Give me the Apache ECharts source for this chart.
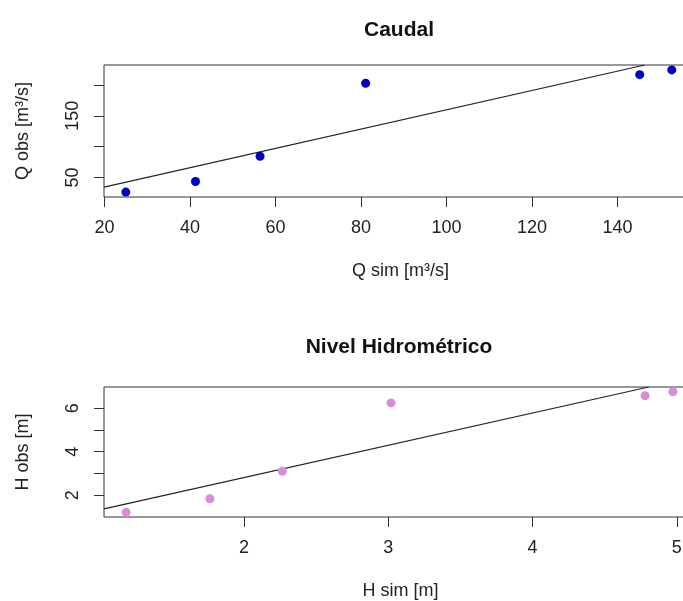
<!DOCTYPE html>
<html>
<head>
<meta charset="utf-8">
<script src="https://cdn.jsdelivr.net/npm/echarts@6/dist/echarts.min.js"></script>
<style>html,body{margin:0;padding:0;background:#fff;overflow:hidden;width:683px;height:601px}#c{width:740px;height:601px}</style>
</head>
<body>
<div id="c"></div>
<script>
// ---- Caudal (discharge) ----
const qSim = [25.0, 41.3, 56.4, 81.1, 145.2, 152.7];
const qObs = [26.3, 43.5, 84.4, 202.7, 216.6, 224.2];
const qFitX = [19.9, 146.4];
const qFitY = [34.4, 232.2];
const qXTicks = [20, 40, 60, 80, 100, 120, 140];
const qYTicks = [50, 100, 150, 200];
const qYLabels = [50, 150];

// ---- Nivel Hidrométrico (stage) ----
const hSim = [1.183, 1.764, 2.266, 3.019, 4.78, 4.973];
const hObs = [1.22, 1.84, 3.10, 6.24, 6.57, 6.75];
const hFitX = [1.03, 4.806];
const hFitY = [1.37, 6.97];
const hXTicks = [2, 3, 4, 5];
const hYTicks = [2, 3, 4, 5, 6];
const hYLabels = [2, 4, 6];

const FONT = 'Liberation Sans, Arial, Helvetica, sans-serif';
const chart = echarts.init(document.getElementById('c'), null, {renderer: 'canvas'});

function xAx(gridIndex, min, max, ticks, name) {
  return {
    type: 'value', gridIndex, min, max, name,
    nameLocation: 'middle', nameGap: 65,
    nameTextStyle: {fontFamily: FONT, fontSize: 18, color: '#222'},
    axisLine: {show: false},
    axisTick: {show: true, length: 10, customValues: ticks, lineStyle: {color: '#333', width: 1}},
    axisLabel: {customValues: ticks, margin: 22, fontFamily: FONT, fontSize: 18, color: '#222'},
    splitLine: {show: false}
  };
}
function yAx(gridIndex, min, max, ticks, labels, name) {
  return {
    type: 'value', gridIndex, min, max, name,
    nameLocation: 'middle', nameGap: 72, nameRotate: 90,
    nameTextStyle: {fontFamily: FONT, fontSize: 18, color: '#222'},
    axisLine: {show: false},
    axisTick: {show: true, length: 10, customValues: ticks, lineStyle: {color: '#333', width: 1}},
    axisLabel: {customValues: labels, rotate: 90, margin: 22, fontFamily: FONT, fontSize: 18, color: '#222'},
    splitLine: {show: false}
  };
}
const pts = (xs, ys) => xs.map((x, i) => [x, ys[i]]);

chart.setOption({
  animation: false,
  backgroundColor: '#fff',
  grid: [
    {left: 104, top: 65, width: 593, height: 132, show: true, borderColor: '#333', borderWidth: 1},
    {left: 104, top: 387, width: 593, height: 133, show: true, borderColor: '#333', borderWidth: 1}
  ],
  xAxis: [
    xAx(0, 19.9, 158.6, qXTicks, 'Q sim [m³/s]'),
    xAx(1, 1.03, 5.14, hXTicks, 'H sim [m]')
  ],
  yAxis: [
    yAx(0, 18.4, 232.2, qYTicks, qYLabels, 'Q obs [m³/s]'),
    yAx(1, 1.0, 6.97, hYTicks, hYLabels, 'H obs [m]')
  ],
  graphic: [
    {type: 'text', x: 399, y: 30, style: {text: 'Caudal', fontFamily: FONT, fontSize: 21, fontWeight: 'bold', fill: '#111', align: 'center', verticalAlign: 'middle'}},
    {type: 'text', x: 399, y: 347, style: {text: 'Nivel Hidrométrico', fontFamily: FONT, fontSize: 21, fontWeight: 'bold', fill: '#111', align: 'center', verticalAlign: 'middle'}}
  ],
  series: [
    {type: 'scatter', xAxisIndex: 0, yAxisIndex: 0, data: pts(qSim, qObs), symbol: 'circle', symbolSize: 9, itemStyle: {color: '#0000C0', opacity: 1}, z: 3},
    {type: 'line', xAxisIndex: 0, yAxisIndex: 0, data: pts(qFitX, qFitY), symbol: 'none', clip: true, lineStyle: {color: '#222', width: 1.2}, z: 2},
    {type: 'scatter', xAxisIndex: 1, yAxisIndex: 1, data: pts(hSim, hObs), symbol: 'circle', symbolSize: 9, itemStyle: {color: '#D78DDB', opacity: 1}, z: 3},
    {type: 'line', xAxisIndex: 1, yAxisIndex: 1, data: pts(hFitX, hFitY), symbol: 'none', clip: true, lineStyle: {color: '#222', width: 1.2}, z: 2}
  ]
});
</script>
</body>
</html>
